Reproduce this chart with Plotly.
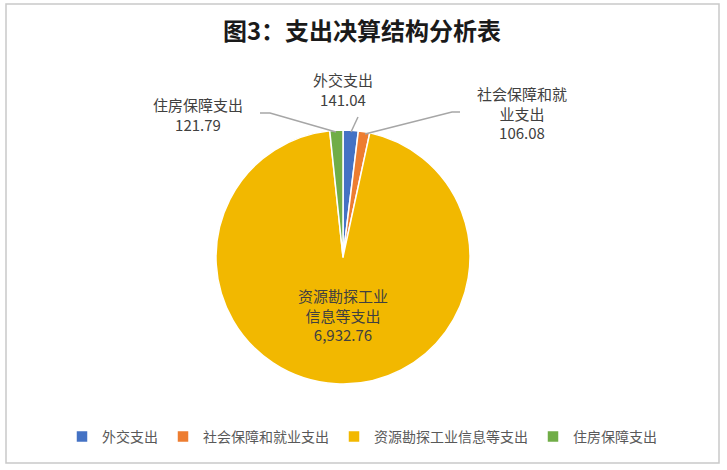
import plotly.graph_objects as go

# chart data
categories = ["外交支出", "社会保障和就业支出", "资源勘探工业信息等支出", "住房保障支出"]
amounts = [141.04, 106.08, 6932.76, 121.79]
colors = ["#4472C4", "#ED7D31", "#F2B800", "#70AD47"]

W, H = 727, 470
FONT = "Noto Sans CJK SC"


def px(x, y):
    # screen pixel -> paper coords
    return x / W, 1 - y / H


def wrap(name, n=6):
    return "<br>".join(name[i:i + n] for i in range(0, len(name), n))


labels = [wrap(c) + "<br>" + f"{v:,.2f}" for c, v in zip(categories, amounts)]

x0, y1 = px(214, 130)
x1, y0 = px(472, 384)
fig = go.Figure(
    go.Pie(
        labels=categories,
        values=amounts,
        sort=False,
        direction="clockwise",
        rotation=0,
        marker=dict(colors=colors, line=dict(color="white", width=1.5)),
        textinfo="none",
        hoverinfo="label+value+percent",
        domain=dict(x=[x0, x1], y=[y0, y1]),
    )
)

# data label positions (pixel centres) and leader lines
label_pos = [(343, 90), (522, 113), (343, 315), (198, 114)]
leaders = [
    [(358, 117), (351, 132)],
    [(460, 112), (452, 112), (365, 134)],
    None,
    [(260, 113), (270, 113), (336, 132)],
]

annotations = []
for txt, (lx, ly) in zip(labels, label_pos):
    ax_, ay_ = px(lx, ly)
    annotations.append(dict(
        x=ax_, y=ay_, xref="paper", yref="paper", text=txt, showarrow=False,
        xanchor="center", yanchor="middle", align="center",
        font=dict(family=FONT, size=15, color="#404040"),
    ))

shapes = []
for pts in leaders:
    if pts is None:
        continue
    path = "M " + " L ".join(f"{px(x, y)[0]},{px(x, y)[1]}" for x, y in pts)
    shapes.append(dict(type="path", path=path, xref="paper", yref="paper",
                       line=dict(color="#a6a6a6", width=1.5)))

# chart border
bx0, by1 = px(6, 4)
bx1, by0 = px(719, 463)
shapes.append(dict(type="rect", xref="paper", yref="paper",
                   x0=bx0, x1=bx1, y0=by0, y1=by1,
                   line=dict(color="#c9c9c9", width=1.5)))

tx, ty = px(362, 32)
lx, ly = px(362, 437)
fig.update_layout(
    width=W, height=H,
    margin=dict(l=0, r=0, t=0, b=0),
    paper_bgcolor="white",
    title=dict(text="<b>图3：支出决算结构分析表</b>", x=tx, xanchor="center",
               y=ty, yanchor="middle",
               font=dict(family=FONT, size=24, color="#1a1a1a")),
    legend=dict(orientation="h", x=lx, xanchor="center", y=ly,
                yanchor="middle", font=dict(family=FONT, size=14, color="#595959"),
                itemwidth=30, traceorder="normal"),
    annotations=annotations,
    shapes=shapes,
)

# drop the default page margin so the figure sits at the window's corner
fig.write_html("out.html", config={"displayModeBar": False},
               post_script="document.body.style.margin='0';")
